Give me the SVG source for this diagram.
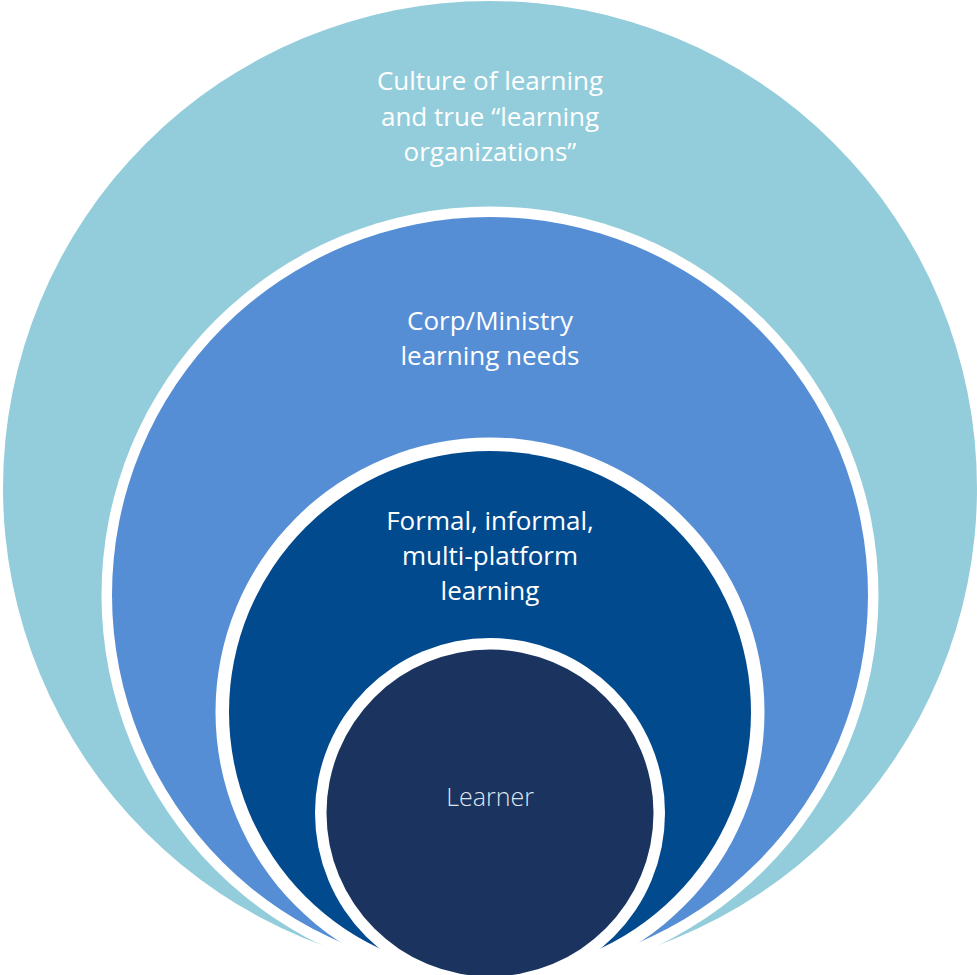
<svg xmlns="http://www.w3.org/2000/svg" width="977" height="975" viewBox="0 0 977 975">
  <style>
    .ring { fill: #ffffff; }
    .lbl { font-family: "Open Sans", "Noto Sans", "Liberation Sans", sans-serif; font-size: 26px; fill: #ffffff; text-anchor: middle; }
    .lbl-light { font-family: "Open Sans", "Noto Sans", "Liberation Sans", sans-serif; font-size: 25px; font-weight: 300; fill: #dfe5ee; text-anchor: middle; }
  </style>
  <rect x="0" y="0" width="977" height="975" fill="#ffffff"/>
  <g id="culture">
    <circle cx="490" cy="488" r="487" fill="#93cddb"/>
    <text class="lbl" x="490" y="90">Culture of learning</text>
    <text class="lbl" x="490" y="125.5">and true “learning</text>
    <text class="lbl" x="490" y="161">organizations”</text>
  </g>
  <g id="corp">
    <circle class="ring" cx="490" cy="595" r="388.5"/>
    <circle cx="490" cy="595" r="378" fill="#568ed5"/>
    <text class="lbl" x="490" y="329.5">Corp/Ministry</text>
    <text class="lbl" x="490" y="364.5">learning needs</text>
  </g>
  <g id="formal">
    <circle class="ring" cx="490" cy="712" r="274.5"/>
    <circle cx="490" cy="712" r="261" fill="#024a8e"/>
    <text class="lbl" x="490" y="530">Formal, informal,</text>
    <text class="lbl" x="490" y="565">multi-platform</text>
    <text class="lbl" x="490" y="599.5">learning</text>
  </g>
  <g id="learner">
    <circle class="ring" cx="490" cy="813" r="175"/>
    <circle cx="490" cy="813" r="163.5" fill="#1a335f"/>
    <text class="lbl-light" x="490" y="806">Learner</text>
  </g>
  <g id="connectors"></g>
</svg>
